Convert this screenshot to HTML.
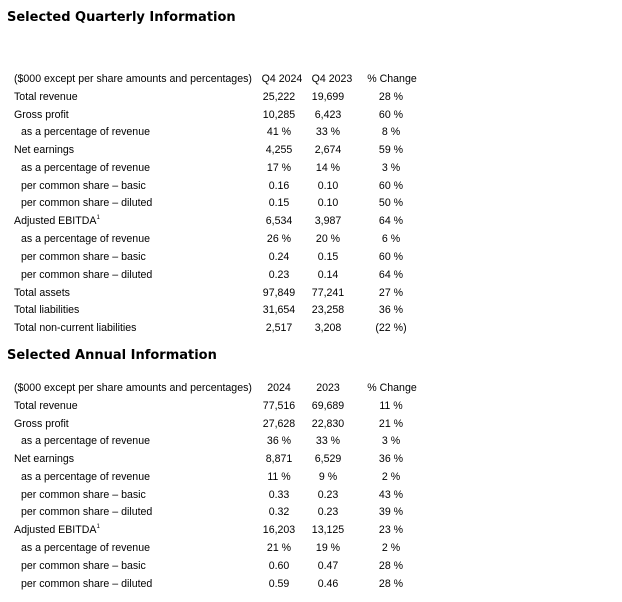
<!DOCTYPE html>
<html><head><style>
body{margin:0;width:622px;height:602px;background:#fff;position:relative;font-family:"Liberation Sans",Arial,sans-serif;font-size:10.6px;color:#000;overflow:hidden}
.t{position:absolute;left:7px;font-family:"DejaVu Sans",Verdana,sans-serif;font-weight:bold;font-size:13px;line-height:16px}
.r{position:absolute;left:0;width:622px;height:14px;line-height:14px;margin-top:1px}
.r span{position:absolute;top:0;white-space:nowrap}
.l{left:14px}.i{left:21px}
.a{left:249px;width:60px;text-align:center}
.b{left:298px;width:60px;text-align:center}
.c{left:361px;width:60px;text-align:center}
sup{font-size:6px;vertical-align:top;line-height:8px}
</style></head><body>
<div class="t" style="top:10px">Selected Quarterly Information</div>
<div class="r" style="top:71px"><span class="l">($000 except per share amounts and percentages)</span><span class="a" style="left:252px">Q4 2024</span><span class="b" style="left:302px">Q4 2023</span><span class="c" style="left:362px">% Change</span></div>
<div class="r" style="top:89px"><span class="l">Total revenue</span><span class="a">25,222</span><span class="b">19,699</span><span class="c">28 %</span></div>
<div class="r" style="top:107px"><span class="l">Gross profit</span><span class="a">10,285</span><span class="b">6,423</span><span class="c">60 %</span></div>
<div class="r" style="top:124px"><span class="i">as a percentage of revenue</span><span class="a">41 %</span><span class="b">33 %</span><span class="c">8 %</span></div>
<div class="r" style="top:142px"><span class="l">Net earnings</span><span class="a">4,255</span><span class="b">2,674</span><span class="c">59 %</span></div>
<div class="r" style="top:160px"><span class="i">as a percentage of revenue</span><span class="a">17 %</span><span class="b">14 %</span><span class="c">3 %</span></div>
<div class="r" style="top:178px"><span class="i">per common share – basic</span><span class="a">0.16</span><span class="b">0.10</span><span class="c">60 %</span></div>
<div class="r" style="top:195px"><span class="i">per common share – diluted</span><span class="a">0.15</span><span class="b">0.10</span><span class="c">50 %</span></div>
<div class="r" style="top:213px"><span class="l">Adjusted EBITDA<sup>1</sup></span><span class="a">6,534</span><span class="b">3,987</span><span class="c">64 %</span></div>
<div class="r" style="top:231px"><span class="i">as a percentage of revenue</span><span class="a">26 %</span><span class="b">20 %</span><span class="c">6 %</span></div>
<div class="r" style="top:249px"><span class="i">per common share – basic</span><span class="a">0.24</span><span class="b">0.15</span><span class="c">60 %</span></div>
<div class="r" style="top:267px"><span class="i">per common share – diluted</span><span class="a">0.23</span><span class="b">0.14</span><span class="c">64 %</span></div>
<div class="r" style="top:285px"><span class="l">Total assets</span><span class="a">97,849</span><span class="b">77,241</span><span class="c">27 %</span></div>
<div class="r" style="top:302px"><span class="l">Total liabilities</span><span class="a">31,654</span><span class="b">23,258</span><span class="c">36 %</span></div>
<div class="r" style="top:320px"><span class="l">Total non-current liabilities</span><span class="a">2,517</span><span class="b">3,208</span><span class="c">(22 %)</span></div>

<div class="t" style="top:348px">Selected Annual Information</div>
<div class="r" style="top:380px"><span class="l">($000 except per share amounts and percentages)</span><span class="a">2024</span><span class="b">2023</span><span class="c" style="left:362px">% Change</span></div>
<div class="r" style="top:398px"><span class="l">Total revenue</span><span class="a">77,516</span><span class="b">69,689</span><span class="c">11 %</span></div>
<div class="r" style="top:416px"><span class="l">Gross profit</span><span class="a">27,628</span><span class="b">22,830</span><span class="c">21 %</span></div>
<div class="r" style="top:433px"><span class="i">as a percentage of revenue</span><span class="a">36 %</span><span class="b">33 %</span><span class="c">3 %</span></div>
<div class="r" style="top:451px"><span class="l">Net earnings</span><span class="a">8,871</span><span class="b">6,529</span><span class="c">36 %</span></div>
<div class="r" style="top:469px"><span class="i">as a percentage of revenue</span><span class="a">11 %</span><span class="b">9 %</span><span class="c">2 %</span></div>
<div class="r" style="top:487px"><span class="i">per common share – basic</span><span class="a">0.33</span><span class="b">0.23</span><span class="c">43 %</span></div>
<div class="r" style="top:504px"><span class="i">per common share – diluted</span><span class="a">0.32</span><span class="b">0.23</span><span class="c">39 %</span></div>
<div class="r" style="top:522px"><span class="l">Adjusted EBITDA<sup>1</sup></span><span class="a">16,203</span><span class="b">13,125</span><span class="c">23 %</span></div>
<div class="r" style="top:540px"><span class="i">as a percentage of revenue</span><span class="a">21 %</span><span class="b">19 %</span><span class="c">2 %</span></div>
<div class="r" style="top:558px"><span class="i">per common share – basic</span><span class="a">0.60</span><span class="b">0.47</span><span class="c">28 %</span></div>
<div class="r" style="top:576px"><span class="i">per common share – diluted</span><span class="a">0.59</span><span class="b">0.46</span><span class="c">28 %</span></div>
</body></html>
